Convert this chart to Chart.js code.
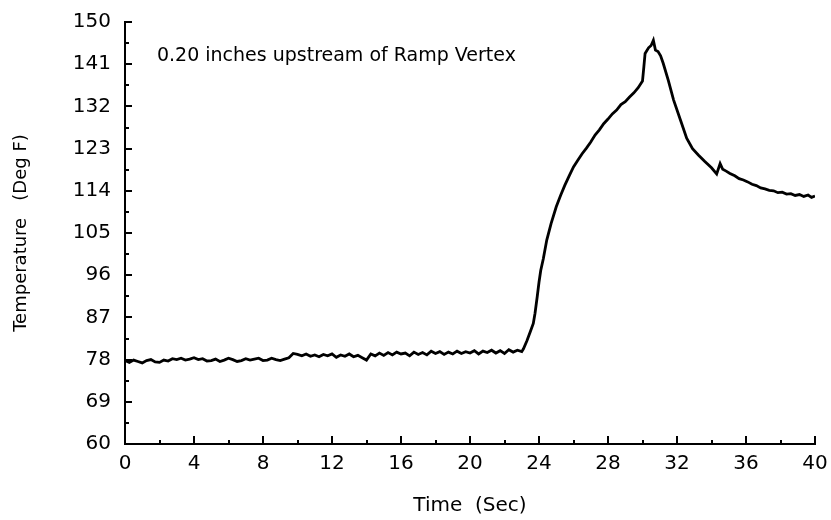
<!DOCTYPE html>
<html>
<head>
<meta charset="utf-8">
<script src="https://cdn.jsdelivr.net/npm/chart.js@4/dist/chart.umd.min.js"></script>
<style>
  html, body { margin: 0; padding: 0; background: #ffffff; }
  #wrap { width: 831px; height: 520px; position: relative; }
</style>
</head>
<body>
<div id="wrap"><canvas id="c" width="831" height="520"></canvas></div>
<script>
// ---- data ----
const timeSec = [
  0, 0.25, 0.5, 0.75, 1, 1.25, 1.5, 1.75, 2, 2.25, 2.5, 2.75, 3, 3.25, 3.5, 3.75,
  4, 4.25, 4.5, 4.75, 5, 5.25, 5.5, 5.75, 6, 6.25, 6.5, 6.75, 7, 7.25, 7.5, 7.75,
  8, 8.25, 8.5, 8.75, 9, 9.25, 9.5, 9.75, 10, 10.25, 10.5, 10.75, 11, 11.25, 11.5, 11.75,
  12, 12.25, 12.5, 12.75, 13, 13.25, 13.5, 13.75, 14, 14.25, 14.5, 14.75, 15, 15.25, 15.5, 15.75,
  16, 16.25, 16.5, 16.75, 17, 17.25, 17.5, 17.75, 18, 18.25, 18.5, 18.75, 19, 19.25, 19.5, 19.75,
  20, 20.25, 20.5, 20.75, 21, 21.25, 21.5, 21.75, 22, 22.25, 22.5, 22.75, 23,
  23.1, 23.3, 23.5, 23.67, 23.77, 23.9, 24.0, 24.1, 24.25, 24.45, 24.7,
  25.0, 25.25, 25.5, 25.75, 26.0, 26.25, 26.5, 26.75, 27.0, 27.25, 27.5, 27.75,
  28.0, 28.25, 28.5, 28.75, 29.0, 29.25, 29.5, 29.75, 30.0, 30.08, 30.15, 30.35, 30.5, 30.63,
  30.75, 30.9, 31.05, 31.2, 31.5, 31.8, 32.2, 32.56, 32.9, 33.25, 33.6, 34.0, 34.3,
  34.5, 34.65, 34.85, 35.07, 35.35, 35.6, 35.85, 36.1, 36.35, 36.6, 36.85, 37.1, 37.35,
  37.6, 37.85, 38.1, 38.35, 38.6, 38.85, 39.1, 39.35, 39.6, 39.8, 40.0
];
const tempDegF = [
  77.8, 77.4, 77.9, 77.6, 77.3, 77.8, 78.0, 77.5, 77.4, 77.9, 77.7, 78.2, 78.0, 78.3, 77.9, 78.1,
  78.4, 78.0, 78.2, 77.7, 77.8, 78.1, 77.6, 77.9, 78.3, 78.0, 77.6, 77.8, 78.2, 77.9, 78.1, 78.3,
  77.8, 77.9, 78.3, 78.0, 77.8, 78.1, 78.4, 79.3, 79.1, 78.8, 79.2, 78.7, 79.0, 78.6, 79.1, 78.8,
  79.2, 78.5, 79.0, 78.7, 79.2, 78.6, 78.9, 78.4, 77.9, 79.2, 78.8, 79.4, 78.9, 79.5, 79.0, 79.6,
  79.2, 79.4, 78.8, 79.6, 79.1, 79.5, 79.0, 79.8, 79.3, 79.7, 79.1, 79.6, 79.2, 79.8, 79.3, 79.7,
  79.4, 79.9, 79.2, 79.8, 79.5, 80.0, 79.4, 79.9, 79.3, 80.1, 79.6, 80.0, 79.7,
  80.3, 82.0, 84.0, 85.7, 87.9, 91.5, 94.5, 97.0, 99.5, 103.5, 107.0,
  110.6, 113.0, 115.2, 117.2, 119.1, 120.5, 121.9, 123.1, 124.4, 125.9, 127.0, 128.3,
  129.3, 130.4, 131.2, 132.4, 133.0, 134.0, 134.9, 136.0, 137.4, 140.5, 143.3, 144.5, 145.0, 146.1,
  144.0, 143.7, 142.8, 141.2, 137.5, 133.4, 129.1, 125.2, 123.0, 121.6, 120.3, 118.9, 117.6,
  119.8, 118.6, 118.2, 117.7, 117.2, 116.6, 116.3, 115.9, 115.4, 115.1, 114.6, 114.4, 114.1,
  114.0, 113.6, 113.7, 113.3, 113.4, 113.0, 113.2, 112.8, 113.1, 112.6, 112.9
];
const xTickValues = [0, 4, 8, 12, 16, 20, 24, 28, 32, 36, 40];
const yTickValues = [60, 69, 78, 87, 96, 105, 114, 123, 132, 141, 150];
const noteText = "0.20 inches upstream of Ramp Vertex";
const xTitle = "Time  (Sec)";
const yTitle = "Temperature   (Deg F)";

const points = timeSec.map((t, i) => ({ x: t, y: tempDegF[i] }));

const inwardTicks = {
  id: 'inwardTicks',
  afterDraw(chart) {
    const ctx = chart.ctx;
    const xs = chart.scales.x, ys = chart.scales.y;
    const area = chart.chartArea;
    ctx.save();
    ctx.strokeStyle = '#000';
    ctx.lineWidth = 2;
    for (let v = 0; v <= 40; v += 2) {
      const px = Math.round(xs.getPixelForValue(v));
      const len = (v % 4 === 0) ? 8 : 4;
      ctx.beginPath();
      ctx.moveTo(px, area.bottom);
      ctx.lineTo(px, area.bottom - len);
      ctx.stroke();
    }
    for (let v = 60; v <= 150; v += 4.5) {
      const py = Math.round(ys.getPixelForValue(v));
      const len = (Math.abs((v - 60) % 9) < 1e-6) ? 7 : 4;
      ctx.beginPath();
      ctx.moveTo(area.left, py);
      ctx.lineTo(area.left + len, py);
      ctx.stroke();
    }
    ctx.fillStyle = '#000';
    ctx.font = '19px "DejaVu Sans"';
    ctx.textBaseline = 'middle';
    ctx.textAlign = 'left';
    ctx.fillText(noteText, xs.getPixelForValue(1.85), ys.getPixelForValue(142.8));
    ctx.restore();
  }
};

new Chart(document.getElementById('c'), {
  type: 'line',
  data: {
    datasets: [{
      data: points,
      borderColor: '#000',
      borderWidth: 2.8,
      pointRadius: 0,
      tension: 0,
      fill: false
    }]
  },
  options: {
    responsive: false,
    animation: false,
    devicePixelRatio: 1,
    layout: { padding: { left: 11, right: 16, top: 22, bottom: 2 } },
    plugins: { legend: { display: false }, tooltip: { enabled: false } },
    scales: {
      x: {
        type: 'linear',
        min: 0, max: 40,
        afterBuildTicks: (s) => { s.ticks = xTickValues.map(v => ({ value: v })); },
        afterFit: (s) => { s.height = 74; s.paddingLeft = 0; s.paddingRight = 0; },
        grid: { display: true, drawOnChartArea: false, drawTicks: false, color: 'rgba(0,0,0,0)' },
        border: { display: true, color: '#000', width: 2 },
        ticks: { color: '#000', padding: 8, maxRotation: 0, font: { family: 'DejaVu Sans', size: 20 } },
        title: { display: true, text: xTitle, color: '#000', padding: { top: 4, bottom: 0 }, font: { family: 'DejaVu Sans', size: 20 } }
      },
      y: {
        type: 'linear',
        min: 60, max: 150,
        afterBuildTicks: (s) => { s.ticks = yTickValues.map(v => ({ value: v })); },
        afterFit: (s) => { s.width = 114; s.paddingTop = 0; s.paddingBottom = 0; },
        grid: { display: true, drawOnChartArea: false, drawTicks: false, color: 'rgba(0,0,0,0)' },
        border: { display: true, color: '#000', width: 2 },
        ticks: { color: '#000', padding: 14, font: { family: 'DejaVu Sans', size: 20 } },
        title: { display: true, text: yTitle, color: '#000', padding: { top: 0, bottom: 0 }, font: { family: 'DejaVu Sans', size: 18 } }
      }
    }
  },
  plugins: [inwardTicks]
});
</script>
</body>
</html>
